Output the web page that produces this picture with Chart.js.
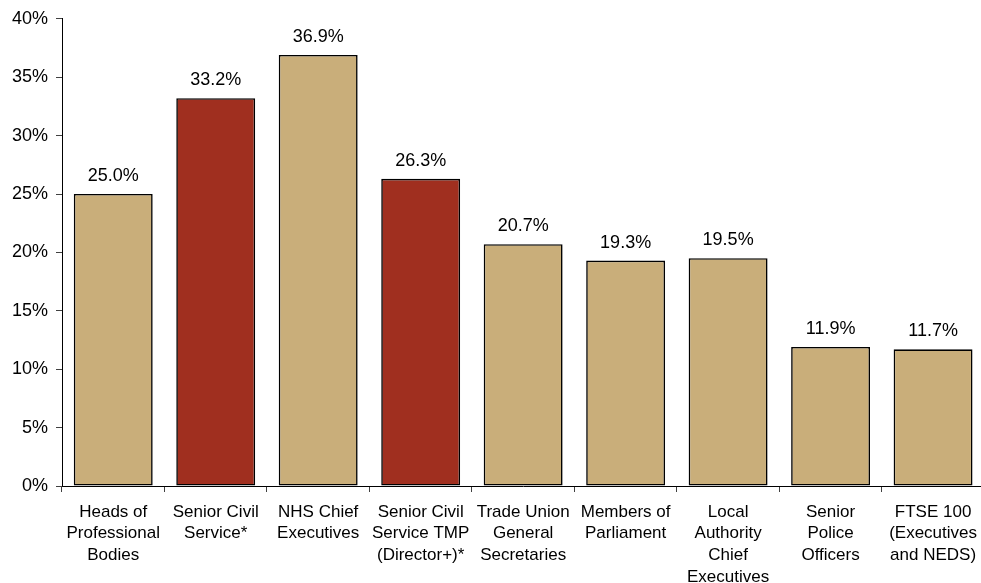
<!DOCTYPE html>
<html>
<head>
<meta charset="utf-8">
<script src="https://cdn.jsdelivr.net/npm/chart.js@4"></script>
<style>
  html, body { margin: 0; padding: 0; background: #fff; overflow: hidden; }
  #wrap { width: 986px; height: 583px; }
</style>
</head>
<body>
<div id="wrap"><canvas id="chart"></canvas></div>
<script>
  // data
  const categories = [
    ["Heads of", "Professional", "Bodies"],
    ["Senior Civil", "Service*"],
    ["NHS Chief", "Executives"],
    ["Senior Civil", "Service TMP", "(Director+)*"],
    ["Trade Union", "General", "Secretaries"],
    ["Members of", "Parliament"],
    ["Local", "Authority", "Chief", "Executives"],
    ["Senior", "Police", "Officers"],
    ["FTSE 100", "(Executives", "and NEDS)"]
  ];
  const values = [25.0, 33.2, 36.9, 26.3, 20.7, 19.3, 19.5, 11.9, 11.7];
  const highlighted = [false, true, false, true, false, false, false, false, false];
  const yTicks = [0, 5, 10, 15, 20, 25, 30, 35, 40];

  const TAN = "#c9ae7a";
  const RED = "#a02f1f";
  const FONT = "'Liberation Sans', Arial, sans-serif";

  // value labels above bars
  const valueLabels = {
    id: "valueLabels",
    afterDatasetsDraw(chart) {
      const ctx = chart.ctx;
      const meta = chart.getDatasetMeta(0);
      ctx.save();
      ctx.font = "18px " + FONT;
      ctx.fillStyle = "#000";
      ctx.textAlign = "center";
      ctx.textBaseline = "bottom";
      meta.data.forEach((bar, i) => {
        ctx.fillText(values[i].toFixed(1) + "%", bar.x, bar.y - 9);
      });
      ctx.restore();
    }
  };

  new Chart(document.getElementById("chart"), {
    type: "bar",
    data: {
      labels: categories,
      datasets: [{
        data: values,
        backgroundColor: highlighted.map((h) => (h ? RED : TAN)),
        borderColor: "#000",
        borderWidth: 1.6,
        borderSkipped: false,
        barPercentage: 0.77,
        categoryPercentage: 1
      }]
    },
    options: {
      responsive: true,
      maintainAspectRatio: false,
      animation: false,
      layout: { padding: { top: 18, right: 0, bottom: 0, left: 0 } },
      plugins: { legend: { display: false }, tooltip: { enabled: false } },
      scales: {
        x: {
          grid: { offset: true, drawOnChartArea: false, color: "#404040", tickLength: 6 },
          border: { color: "#000", width: 1 },
          ticks: { color: "#000", font: { family: FONT, size: 17, lineHeight: 1.28 }, padding: 9, maxRotation: 0, autoSkip: false },
          afterFit: (s) => { s.height = 97; }
        },
        y: {
          min: 0,
          max: 40,
          afterBuildTicks: (s) => { s.ticks = yTicks.map((v) => ({ value: v })); },
          grid: { drawOnChartArea: false, color: "#404040", tickLength: 6 },
          border: { color: "#000", width: 1 },
          ticks: { color: "#000", font: { family: FONT, size: 18 }, padding: 8, callback: (v) => v + "%" },
          afterFit: (s) => { s.width = 62; }
        }
      }
    },
    plugins: [valueLabels]
  });
</script>
</body>
</html>
